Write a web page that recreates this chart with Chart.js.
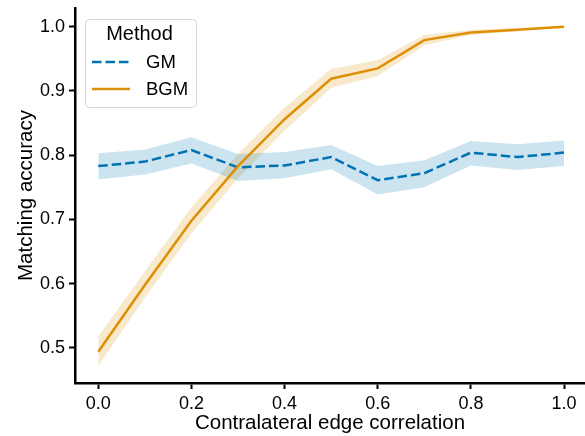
<!DOCTYPE html>
<html>
<head>
<meta charset="utf-8">
<script src="https://cdn.jsdelivr.net/npm/chart.js@4/dist/chart.umd.min.js"></script>
<style>
  html, body { margin: 0; padding: 0; background: #fff; }
  #wrap { width: 585px; height: 436px; }
</style>
</head>
<body>
<div id="wrap"><canvas id="chart" width="585" height="436"></canvas></div>
<script>
// edge correlation (x)
const correlation = [0.0, 0.1, 0.2, 0.3, 0.4, 0.5, 0.6, 0.7, 0.8, 0.9, 1.0]

// GM mean + band
const gmMean = [0.783, 0.790, 0.808, 0.781, 0.784, 0.797, 0.761, 0.772, 0.804, 0.797, 0.804]
const gmLow = [0.762, 0.770, 0.787, 0.760, 0.764, 0.778, 0.739, 0.750, 0.784, 0.777, 0.783]
const gmHigh = [0.803, 0.809, 0.828, 0.802, 0.805, 0.816, 0.783, 0.792, 0.822, 0.817, 0.823]

// BGM mean + band
const bgmMean = [0.494, 0.598, 0.698, 0.783, 0.856, 0.919, 0.935, 0.979, 0.991, 0.995, 1.0]
const bgmLow = [0.472, 0.578, 0.678, 0.764, 0.838, 0.905, 0.923, 0.971, 0.987, 0.993, 0.999]
const bgmHigh = [0.518, 0.619, 0.719, 0.802, 0.874, 0.934, 0.948, 0.987, 0.995, 0.998, 1.001]

const xTicks = [0.0, 0.2, 0.4, 0.6, 0.8, 1.0]
const yTicks = [0.5, 0.6, 0.7, 0.8, 0.9, 1.0]

const legendTitle = 'Method'
const methods = ['GM', 'BGM']

const blue = '#0173b2'
const orange = '#de8f05'
const FONT = '"Liberation Sans", Arial, sans-serif'

function pts(ys) {
    return ys.map((y, i) => ({ x: correlation[i], y: y }))
}

function band(ys, color, fill) {
    return {
        data: pts(ys),
        borderColor: 'rgba(0,0,0,0)',
        borderWidth: 0,
        backgroundColor: color,
        pointRadius: 0,
        fill: fill,
        order: 2
    }
}

// legend drawn in the top-left corner, like the matplotlib one
const legendBox = {
    id: 'legendBox',
    afterDraw(chart) {
        const ctx = chart.ctx
        const x = 85, y = 19, w = 111, h = 88, r = 4
        ctx.save()
        ctx.beginPath()
        ctx.roundRect(x + 0.5, y + 0.5, w, h, r)
        ctx.fillStyle = 'rgba(255,255,255,0.8)'
        ctx.fill()
        ctx.strokeStyle = '#d6d6d6'
        ctx.lineWidth = 1
        ctx.stroke()

        ctx.fillStyle = '#000'
        ctx.textBaseline = 'middle'
        ctx.textAlign = 'center'
        ctx.font = '20px ' + FONT
        ctx.fillText(legendTitle, x + w / 2 - 1, y + 15)

        ctx.textAlign = 'left'
        ctx.font = '18.5px ' + FONT
        const rows = [
            { label: methods[0], color: blue, dash: [9.5, 4], y: 62 },
            { label: methods[1], color: orange, dash: [], y: 89 }
        ]
        rows.forEach(row => {
            ctx.beginPath()
            ctx.setLineDash(row.dash)
            ctx.strokeStyle = row.color
            ctx.lineWidth = 2.5
            ctx.moveTo(92, row.y)
            ctx.lineTo(130, row.y)
            ctx.stroke()
            ctx.setLineDash([])
            ctx.fillText(row.label, 146, row.y + 1)
        })
        ctx.restore()
    }
}

const data = {
    datasets: [
        band(gmHigh, 'rgba(1,115,178,0.2)', '+1'),
        band(gmLow, 'rgba(1,115,178,0.2)', false),
        band(bgmHigh, 'rgba(222,143,5,0.2)', '+1'),
        band(bgmLow, 'rgba(222,143,5,0.2)', false),
        {
            label: methods[0],
            data: pts(gmMean),
            borderColor: blue,
            borderWidth: 2.5,
            borderDash: [9.5, 4],
            pointRadius: 0,
            fill: false,
            order: 1
        },
        {
            label: methods[1],
            data: pts(bgmMean),
            borderColor: orange,
            borderWidth: 2.5,
            pointRadius: 0,
            fill: false,
            order: 0
        }
    ]
}

const axisGrid = {
    display: true,
    drawOnChartArea: false,
    drawTicks: true,
    tickLength: 6,
    tickWidth: 2,
    tickColor: '#000'
}

const options = {
    responsive: false,
    animation: false,
    layout: { padding: { top: 8, right: 0, left: 0, bottom: 0 } },
    plugins: {
        legend: { display: false },
        tooltip: { enabled: false }
    },
    scales: {
        x: {
            type: 'linear',
            min: -0.05,
            max: 1.045,
            border: { display: true, color: '#000', width: 2.5 },
            grid: axisGrid,
            afterBuildTicks: scale => { scale.ticks = xTicks.map(v => ({ value: v })) },
            afterFit: scale => {
                scale.height = 53
                scale.paddingLeft = 0
                scale.paddingRight = 0
            },
            ticks: {
                color: '#000',
                padding: 4,
                maxRotation: 0,
                font: { family: FONT, size: 18 },
                callback: v => v.toFixed(1)
            },
            title: {
                display: true,
                text: 'Contralateral edge correlation',
                color: '#000',
                padding: { top: 0, bottom: 0 },
                font: { family: FONT, size: 20.5 }
            }
        },
        y: {
            type: 'linear',
            min: 0.4455,
            max: 1.029,
            border: { display: true, color: '#000', width: 2.5 },
            grid: axisGrid,
            afterBuildTicks: scale => { scale.ticks = yTicks.map(v => ({ value: v })) },
            afterFit: scale => {
                scale.width = 75
                scale.paddingTop = 0
                scale.paddingBottom = 0
            },
            ticks: {
                color: '#000',
                padding: 4,
                font: { family: FONT, size: 18 },
                callback: v => v.toFixed(1)
            },
            title: {
                display: true,
                text: 'Matching accuracy',
                color: '#000',
                padding: { top: 14, bottom: 0 },
                font: { family: FONT, size: 20.5 }
            }
        }
    }
}

new Chart('chart', { type: 'line', data, options, plugins: [legendBox] })
</script>
</body>
</html>
